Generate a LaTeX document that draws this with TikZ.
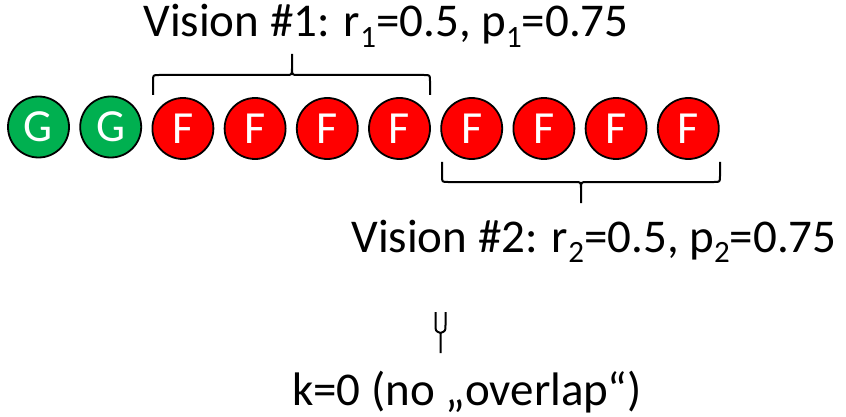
\documentclass[tikz,border=0pt]{standalone}
\usepackage{fontspec}
\setmainfont{Carlito}
\definecolor{ggreen}{HTML}{00B050}
\definecolor{fred}{HTML}{FF0000}
\newcommand{\subi}[1]{\raisebox{-0.22em}{\fontsize{31}{31}\selectfont #1}}
\begin{document}
\begin{tikzpicture}[x=1pt,y=-1pt,
  ball/.style={circle,draw=black,line width=1.8pt,minimum size=61pt,inner sep=0pt,text=white,font=\fontsize{46}{46}\selectfont},
  gball/.style={ball,fill=ggreen},
  fball/.style={ball,fill=fred},
  brace/.style={draw=black,line width=2pt,line join=round},
  lbl/.style={anchor=base,inner sep=0pt,font=\fontsize{47}{47}\selectfont}]
\useasboundingbox (0,0) rectangle (846,417);
% balls
\node[gball] (c1) at (38.5,127) {G};
\node[gball] (c2) at (110.7,127) {G};
\foreach \i in {3,...,10} {
  \node[fball] (c\i) at ({38.5+72.2*(\i-1)},128.5) {F};
}
% top brace
\path[brace] (153,95) -- (153,81) .. controls (153,75) .. (159,75) -- (286,75) .. controls (292,75) .. (292,68) -- (292,54)
  (292,68) .. controls (292,75) .. (298,75) -- (424,75) .. controls (430,75) .. (430,81) -- (430,95);
% bottom brace
\path[brace] (442,162) -- (442,176) .. controls (442,182) .. (448,182) -- (575,182) .. controls (581,182) .. (581,189) -- (581,203)
  (581,189) .. controls (581,182) .. (587,182) -- (714,182) .. controls (720,182) .. (720,176) -- (720,162);
% small brace
\path[brace] (435.5,312) -- (435.5,325) .. controls (435.5,331) .. (440.5,333) -- (440.5,353)
  (440.5,333) .. controls (445.5,331) .. (445.5,325) -- (445.5,312);
% labels
\node[lbl] (t1) at (386,37) {Vision \#1: r\subi{1}=0.5, p\subi{1}=0.75};
\node[lbl] (t2) at (594,252) {Vision \#2: r\subi{2}=0.5, p\subi{2}=0.75};
\node[lbl] (t3) at (467,405) {k=0 (no „overlap“)};
\end{tikzpicture}
\end{document}
